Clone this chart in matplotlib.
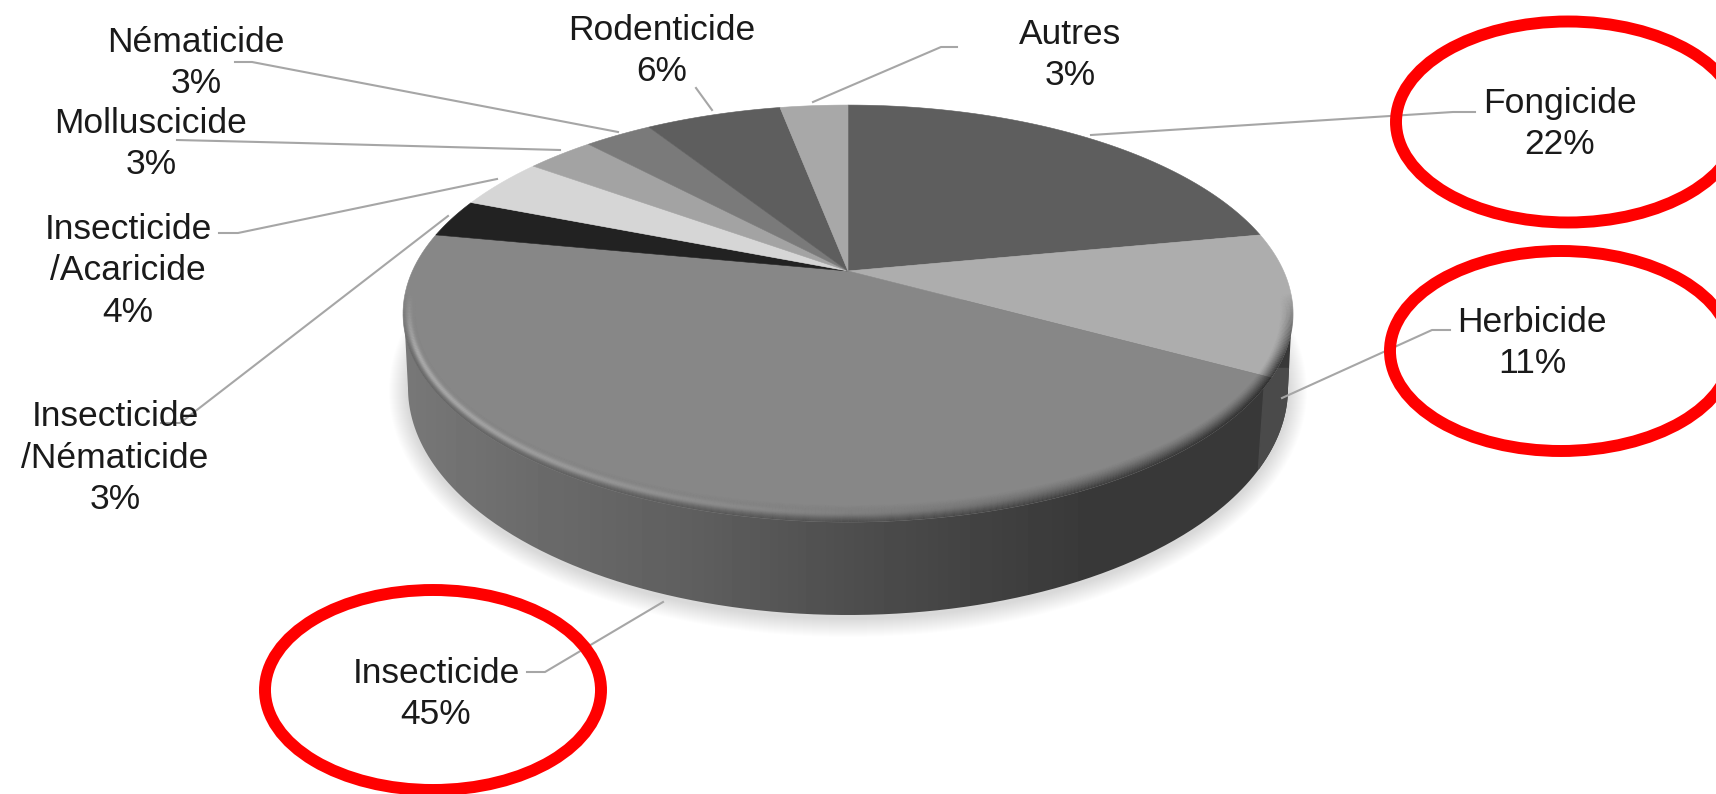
import numpy as np
import matplotlib
matplotlib.use("Agg")
import matplotlib.pyplot as plt
from matplotlib.patches import Ellipse, PathPatch
from matplotlib.path import Path
from matplotlib.collections import LineCollection

# data, clockwise from 12 o'clock
names = ["Fongicide", "Herbicide", "Insecticide", "Insecticide\n/Nématicide", "Insecticide\n/Acaricide",
         "Molluscicide", "Nématicide", "Rodenticide", "Autres"]
shares = [22, 11, 45, 3, 4, 3, 3, 6, 3]
greys = ["#5e5e5e", "#adadad", "#878787", "#222222", "#d6d6d6", "#a3a3a3", "#7a7a7a", "#5e5e5e", "#a8a8a8"]

# label centres, pixels
label_x = [1560, 1532, 436, 115, 128, 151, 196, 662, 1070]
label_y = [121, 340, 691, 455, 268, 141, 60, 48, 52]

# leader lines, pixels
leaders = [[(1475, 112), (1453, 112), (1091, 135)],
           [(1450, 330), (1432, 330), (1282, 398)],
           [(527, 672), (545, 672), (663, 602)],
           [(161, 423), (180, 423), (448, 216)],
           [(219, 233), (238, 233), (497, 179)],
           [(177, 140), (300, 143), (560, 150)],
           [(235, 62), (252, 62), (618, 132)],
           [(696, 88), (712, 110)],
           [(957, 47), (941, 47), (813, 102)]]

# hand drawn rings around the three main families: x, y, width, height
rings = [(1568, 122, 344, 201), (1561, 351, 342, 200), (433, 690, 336, 200)]

# pie geometry
cx, cy = 848, 271
A, B, k = 435.6, 199.8, 0.204
ecy, erx, ery = 313, 445, 208.5      # top rim seen as an ellipse
bcy, brx, bry = 388, 440, 227        # bottom rim


def project(theta):
    # clockwise angle on the disc to pixel position, with perspective
    u, v = np.sin(theta), np.cos(theta)
    w = 1 + k * v
    return cx + A * u / w, cy - B * v / w


fig = plt.figure(figsize=(17.16, 7.94), dpi=100)
ax = fig.add_axes([0, 0, 1, 1])
ax.set_xlim(0, 1716)
ax.set_ylim(794, 0)
ax.axis("off")

# soft shadow under the disc
for e in range(1, 20):
    ax.add_patch(Ellipse((cx, bcy + 3), 2 * (brx + e), 2 * (bry + e), fc="k", ec="none", alpha=0.008, zorder=1))

# side wall with a left to right gradient, top edge kept just inside the face
phi0 = np.linspace(0, np.pi, 300)
phi1 = np.linspace(np.pi, 2 * np.pi, 300)
wall = np.vstack([np.c_[cx + brx * np.cos(phi0), bcy + bry * np.sin(phi0)],
                  np.c_[cx + (erx - 1) * np.cos(phi1), ecy + (ery - 1) * np.sin(phi1)]])
wall_path = PathPatch(Path(wall), fc="none", ec="none", transform=ax.transData)
ax.add_patch(wall_path)
xs = np.linspace(400, 1300, 450)
ramp = np.interp(xs, [400, 520, 700, 860, 1000, 1100, 1300], [0x78, 0x6c, 0x5e, 0x4d, 0x40, 0x38, 0x38])
im = ax.imshow(ramp[None, :], extent=(400, 1300, 640, 300), cmap="gray", vmin=0, vmax=255, aspect="auto", zorder=2)
im.set_clip_path(wall_path)

# herbicide part of the wall
edges = np.cumsum([0] + shares) / sum(shares) * 2 * np.pi
hx, hy = project(edges[2])
sliver = ax.fill([hx - 6, 1310, 1310, hx - 13], [hy - 10, hy - 10, hy + 90, hy + 90], color="#4a4a4a", zorder=3)[0]
sliver.set_clip_path(wall_path)

# top face
for i, c in enumerate(greys):
    t = np.linspace(edges[i], edges[i + 1], 120)
    x, y = project(t)
    ax.fill(np.r_[cx, x], np.r_[cy, y], fc=c, ec=c, lw=0.4, zorder=4)

# bevel round the front of the rim, darker to the right
phi = np.linspace(-0.55, np.pi + 0.1, 500)
segs, cols = [], []
for d in np.arange(0, 17, 1.0):
    f = d / 17
    x = cx + (erx - 0.8 * d) * np.cos(phi)
    y = ecy + (ery - d) * np.sin(phi)
    pts = np.c_[x, y]
    xn = (x[:-1] - 403) / 890
    fade = np.clip((phi[:-1] + 0.1) / 0.35, 0, 1) * np.clip((np.pi + 0.1 - phi[:-1]) / 0.3, 0, 1)
    dark = (0.17 + 0.45 * xn) * (1 - f) ** 1.5 * fade
    light = 0.34 * np.clip(1 - xn / 0.75, 0, 1) * np.exp(-((f - 0.45) / 0.22) ** 2) * fade
    for j in range(len(phi) - 1):
        segs.append(pts[j:j + 2])
        a = min(dark[j] + light[j], 1)
        g = light[j] / (dark[j] + light[j] + 1e-6)
        cols.append((g, g, g, a))
ax.add_collection(LineCollection(segs, colors=cols, linewidths=0.75, zorder=5))

# leader lines
for pts in leaders:
    ax.plot([p[0] for p in pts], [p[1] for p in pts], color="#a6a6a6", lw=1.5, zorder=6)

# labels
for n, s, x, y in zip(names, shares, label_x, label_y):
    ax.text(x, y + 3, n + "\n" + str(s) + "%", ha="center", va="center", family="Liberation Sans",
            fontsize=25.5, color="#1a1a1a", linespacing=1.33, zorder=7)

# rings
for x, y, w, h in rings:
    ax.add_patch(Ellipse((x, y), w, h, fc="none", ec="#ff0000", lw=8.6, zorder=8))

fig.savefig("out.png", dpi=100)
